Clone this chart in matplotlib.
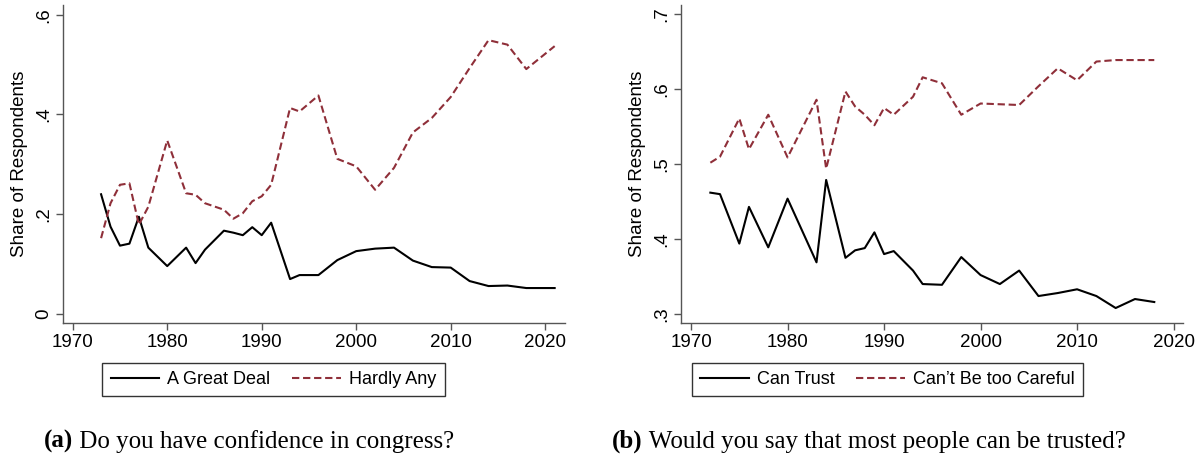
import matplotlib
matplotlib.use("Agg")
from matplotlib import pyplot as plt

# panel (a): confidence in congress
years_a = [1973, 1974, 1975, 1976, 1977, 1978, 1980, 1982, 1983, 1984, 1986, 1987,
           1988, 1989, 1990, 1991, 1993, 1994, 1996, 1998, 2000, 2002, 2004, 2006,
           2008, 2010, 2012, 2014, 2016, 2018, 2021]
great_deal = [0.240, 0.175, 0.137, 0.141, 0.195, 0.133, 0.096, 0.133, 0.102, 0.129,
              0.167, 0.163, 0.158, 0.174, 0.158, 0.183, 0.070, 0.078, 0.078, 0.108,
              0.126, 0.131, 0.133, 0.107, 0.094, 0.093, 0.066, 0.056, 0.057, 0.052,
              0.052]
hardly_any = [0.152, 0.222, 0.259, 0.262, 0.179, 0.215, 0.348, 0.242, 0.239, 0.222,
              0.209, 0.191, 0.202, 0.226, 0.236, 0.259, 0.413, 0.406, 0.438, 0.311,
              0.296, 0.249, 0.293, 0.364, 0.393, 0.435, 0.493, 0.549, 0.540, 0.491,
              0.537]

# panel (b): can most people be trusted
years_b = [1972, 1973, 1975, 1976, 1978, 1980, 1983, 1984, 1986, 1987, 1988, 1989,
           1990, 1991, 1993, 1994, 1996, 1998, 2000, 2002, 2004, 2006, 2008, 2010,
           2012, 2014, 2016, 2018]
can_trust = [0.462, 0.460, 0.394, 0.443, 0.389, 0.454, 0.369, 0.479, 0.375, 0.385,
             0.388, 0.409, 0.380, 0.384, 0.358, 0.340, 0.339, 0.376, 0.352, 0.340,
             0.358, 0.324, 0.328, 0.333, 0.324, 0.308, 0.320, 0.316]
too_careful = [0.502, 0.510, 0.561, 0.520, 0.566, 0.509, 0.586, 0.494, 0.597, 0.577,
               0.566, 0.552, 0.575, 0.566, 0.590, 0.616, 0.608, 0.566, 0.581, 0.580,
               0.579, 0.604, 0.628, 0.612, 0.637, 0.639, 0.639, 0.639]

xticks = [1970, 1980, 1990, 2000, 2010, 2020]
yticks_a = [0, 0.2, 0.4, 0.6]
ytick_labels_a = ["0", ".2", ".4", ".6"]
yticks_b = [0.3, 0.4, 0.5, 0.6, 0.7]
ytick_labels_b = [".3", ".4", ".5", ".6", ".7"]

RED = "#8f2f39"
GRAY = "#555555"
SANS = "Liberation Sans"
SERIF = "Liberation Serif"
DASH = (3.5, 1.8)

fig = plt.figure(figsize=(12.03, 4.58), dpi=100)
ax1 = fig.add_axes([0.0526, 0.2941, 0.4171, 0.6950])
ax2 = fig.add_axes([0.5661, 0.2941, 0.4173, 0.6950])


def style(ax, yt, ytl, xlim, ylim):
    ax.set_xlim(*xlim)
    ax.set_ylim(*ylim)
    ax.set_xticks(xticks)
    ax.set_xticklabels([str(t) for t in xticks], fontfamily=SANS, fontsize=13.5)
    ax.set_yticks(yt)
    ax.set_yticklabels(ytl, fontfamily=SANS, fontsize=13.5, rotation=90, va="center")
    for s in ["top", "right"]:
        ax.spines[s].set_visible(False)
    for s in ["left", "bottom"]:
        ax.spines[s].set_color(GRAY)
        ax.spines[s].set_linewidth(1.0)
    ax.tick_params(direction="out", length=5, width=1.0, color=GRAY, pad=3)
    ax.set_ylabel("Share of Respondents", fontfamily=SANS, fontsize=13.5, labelpad=5)


ax1.plot(years_a, great_deal, color="black", lw=1.5, label="A Great Deal")
ax1.plot(years_a, hardly_any, color=RED, lw=1.5, dashes=DASH, label="Hardly Any")
style(ax1, yticks_a, ytick_labels_a, (1969.0, 2022.1), (-0.0187, 0.6195))

ax2.plot(years_b, can_trust, color="black", lw=1.5, label="Can Trust")
ax2.plot(years_b, too_careful, color=RED, lw=1.5, dashes=DASH,
         label="Can\u2019t Be too Careful")
style(ax2, yticks_b, ytick_labels_b, (1968.96, 2020.98), (0.2876, 0.7125))

for ax, cx in [(ax1, 0.419), (ax2, 0.411)]:
    leg = ax.legend(loc="upper center", bbox_to_anchor=(cx, -0.125), ncol=2,
                    frameon=True, fancybox=False, edgecolor="black",
                    prop={"family": SANS, "size": 13}, handlelength=2.7,
                    columnspacing=1.2, borderpad=0.45, handletextpad=0.45,
                    borderaxespad=0)
    leg.get_frame().set_linewidth(1.0)

# captions: bold serif panel letter, then the question right after it
captions = [(0.0366, "(a)", "Do you have confidence in congress?"),
            (0.5087, "(b)", "Would you say that most people can be trusted?")]
for x0, tag, question in captions:
    t = fig.text(x0, 0.0218, tag, ha="left", va="baseline", fontfamily=SERIF,
                 fontsize=18, fontweight="bold")
    fig.add_artist(plt.Annotation(" " + question, xy=(1, 0), xycoords=t,
                                  ha="left", va="bottom",
                                  fontfamily=SERIF, fontsize=18))

fig.savefig("out.png", dpi=100)
